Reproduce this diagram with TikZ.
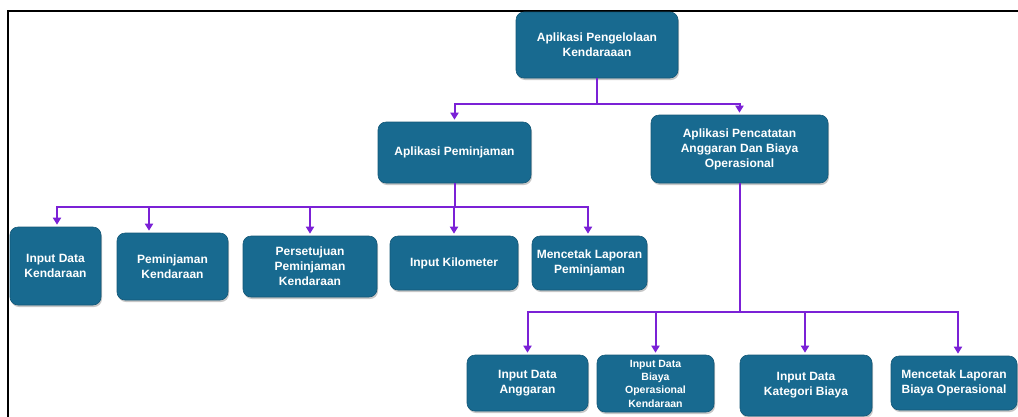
\documentclass[tikz,border=0pt]{standalone}
\usepackage{fontspec}
\setmainfont{Liberation Sans}[BoldFont={Liberation Sans Bold}]
\usetikzlibrary{arrows.meta,shadows}
\definecolor{boxblue}{RGB}{24,106,144}
\definecolor{boxedge}{RGB}{20,88,120}
\definecolor{linkviolet}{RGB}{123,33,214}
\tikzset{
  box/.style={rectangle, rounded corners=8pt, fill=boxblue, draw=boxedge, line width=0.6pt,
    text=white, align=center, inner sep=2pt,
    font=\fontsize{12}{15}\selectfont\bfseries,
    drop shadow={shadow xshift=1pt, shadow yshift=-2pt, fill=black, opacity=0.22}},
  smallbox/.style={box, font=\fontsize{10.5}{13.3}\selectfont\bfseries},
  conn/.style={draw=linkviolet, line width=2pt,
    -{Triangle[length=7pt,width=8pt]}, shorten >=2pt},
  frame/.style={draw=black, line width=2pt}
}
\begin{document}
\begin{tikzpicture}[x=1pt,y=-1pt]
\useasboundingbox (0,0) rectangle (1018,416);

% page frame (top and left edges)
\draw[frame] (8,417) -- (8,11) -- (1019,11);

% root
\node[box, minimum width=162pt, minimum height=66pt] (root) at (597,45)
  {Aplikasi Pengelolaan\\Kendaraaan};

% second level
\node[box, minimum width=153pt, minimum height=61pt] (pem) at (454.5,152.5)
  {Aplikasi Peminjaman};
\node[box, minimum width=177pt, minimum height=68pt] (pen) at (739.5,149)
  {Aplikasi Pencatatan\\Anggaran Dan Biaya\\Operasional};

% children of Aplikasi Peminjaman
\node[box, minimum width=91pt, minimum height=78pt] (k1) at (55.5,266)
  {Input Data\\Kendaraan};
\node[box, minimum width=111pt, minimum height=67pt] (k2) at (172.5,266.5)
  {Peminjaman\\Kendaraan};
\node[box, minimum width=134pt, minimum height=61pt] (k3) at (310,266.5)
  {Persetujuan\\Peminjaman\\Kendaraan};
\node[box, minimum width=128pt, minimum height=54pt] (k4) at (454,263)
  {Input Kilometer};
\node[box, minimum width=115pt, minimum height=54pt] (k5) at (589.5,263)
  {Mencetak Laporan\\Peminjaman};

% children of Aplikasi Pencatatan
\node[box, minimum width=121pt, minimum height=56pt] (p1) at (527.5,383)
  {Input Data\\Anggaran};
\node[smallbox, minimum width=117pt, minimum height=57pt] (p2) at (655.5,383.5)
  {Input Data\\Biaya\\Operasional\\Kendaraan};
\node[box, minimum width=132pt, minimum height=61pt] (p3) at (806,385.5)
  {Input Data\\Kategori Biaya};
\node[box, minimum width=126pt, minimum height=54pt] (p4) at (954,383)
  {Mencetak Laporan\\Biaya Operasional};

% junction points on the buses
\coordinate (j0) at (597,104);
\coordinate (j1) at (454.5,207);
\coordinate (j2) at (739.5,312);

% root -> second level
\draw[conn] (root.south) -- (j0) -| (pem.north);
\draw[conn] (root.south) -- (j0) -| (pen.north);

% Aplikasi Peminjaman -> children
\draw[conn] (pem.south) -- (j1) -| ([xshift=1.5pt]k1.north);
\draw[conn] (pem.south) -- (j1) -| ([xshift=-23.5pt]k2.north);
\draw[conn] (pem.south) -- (j1) -| (k3.north);
\draw[conn] (pem.south) -- (j1) -| (k4.north);
\draw[conn] (pem.south) -- (j1) -| ([xshift=-1.5pt]k5.north);

% Aplikasi Pencatatan -> children
\draw[conn] (pen.south) -- (j2) -| (p1.north);
\draw[conn] (pen.south) -- (j2) -| (p2.north);
\draw[conn] (pen.south) -- (j2) -| ([xshift=-1pt]p3.north);
\draw[conn] (pen.south) -- (j2) -| ([xshift=4pt]p4.north);
\end{tikzpicture}
\end{document}
